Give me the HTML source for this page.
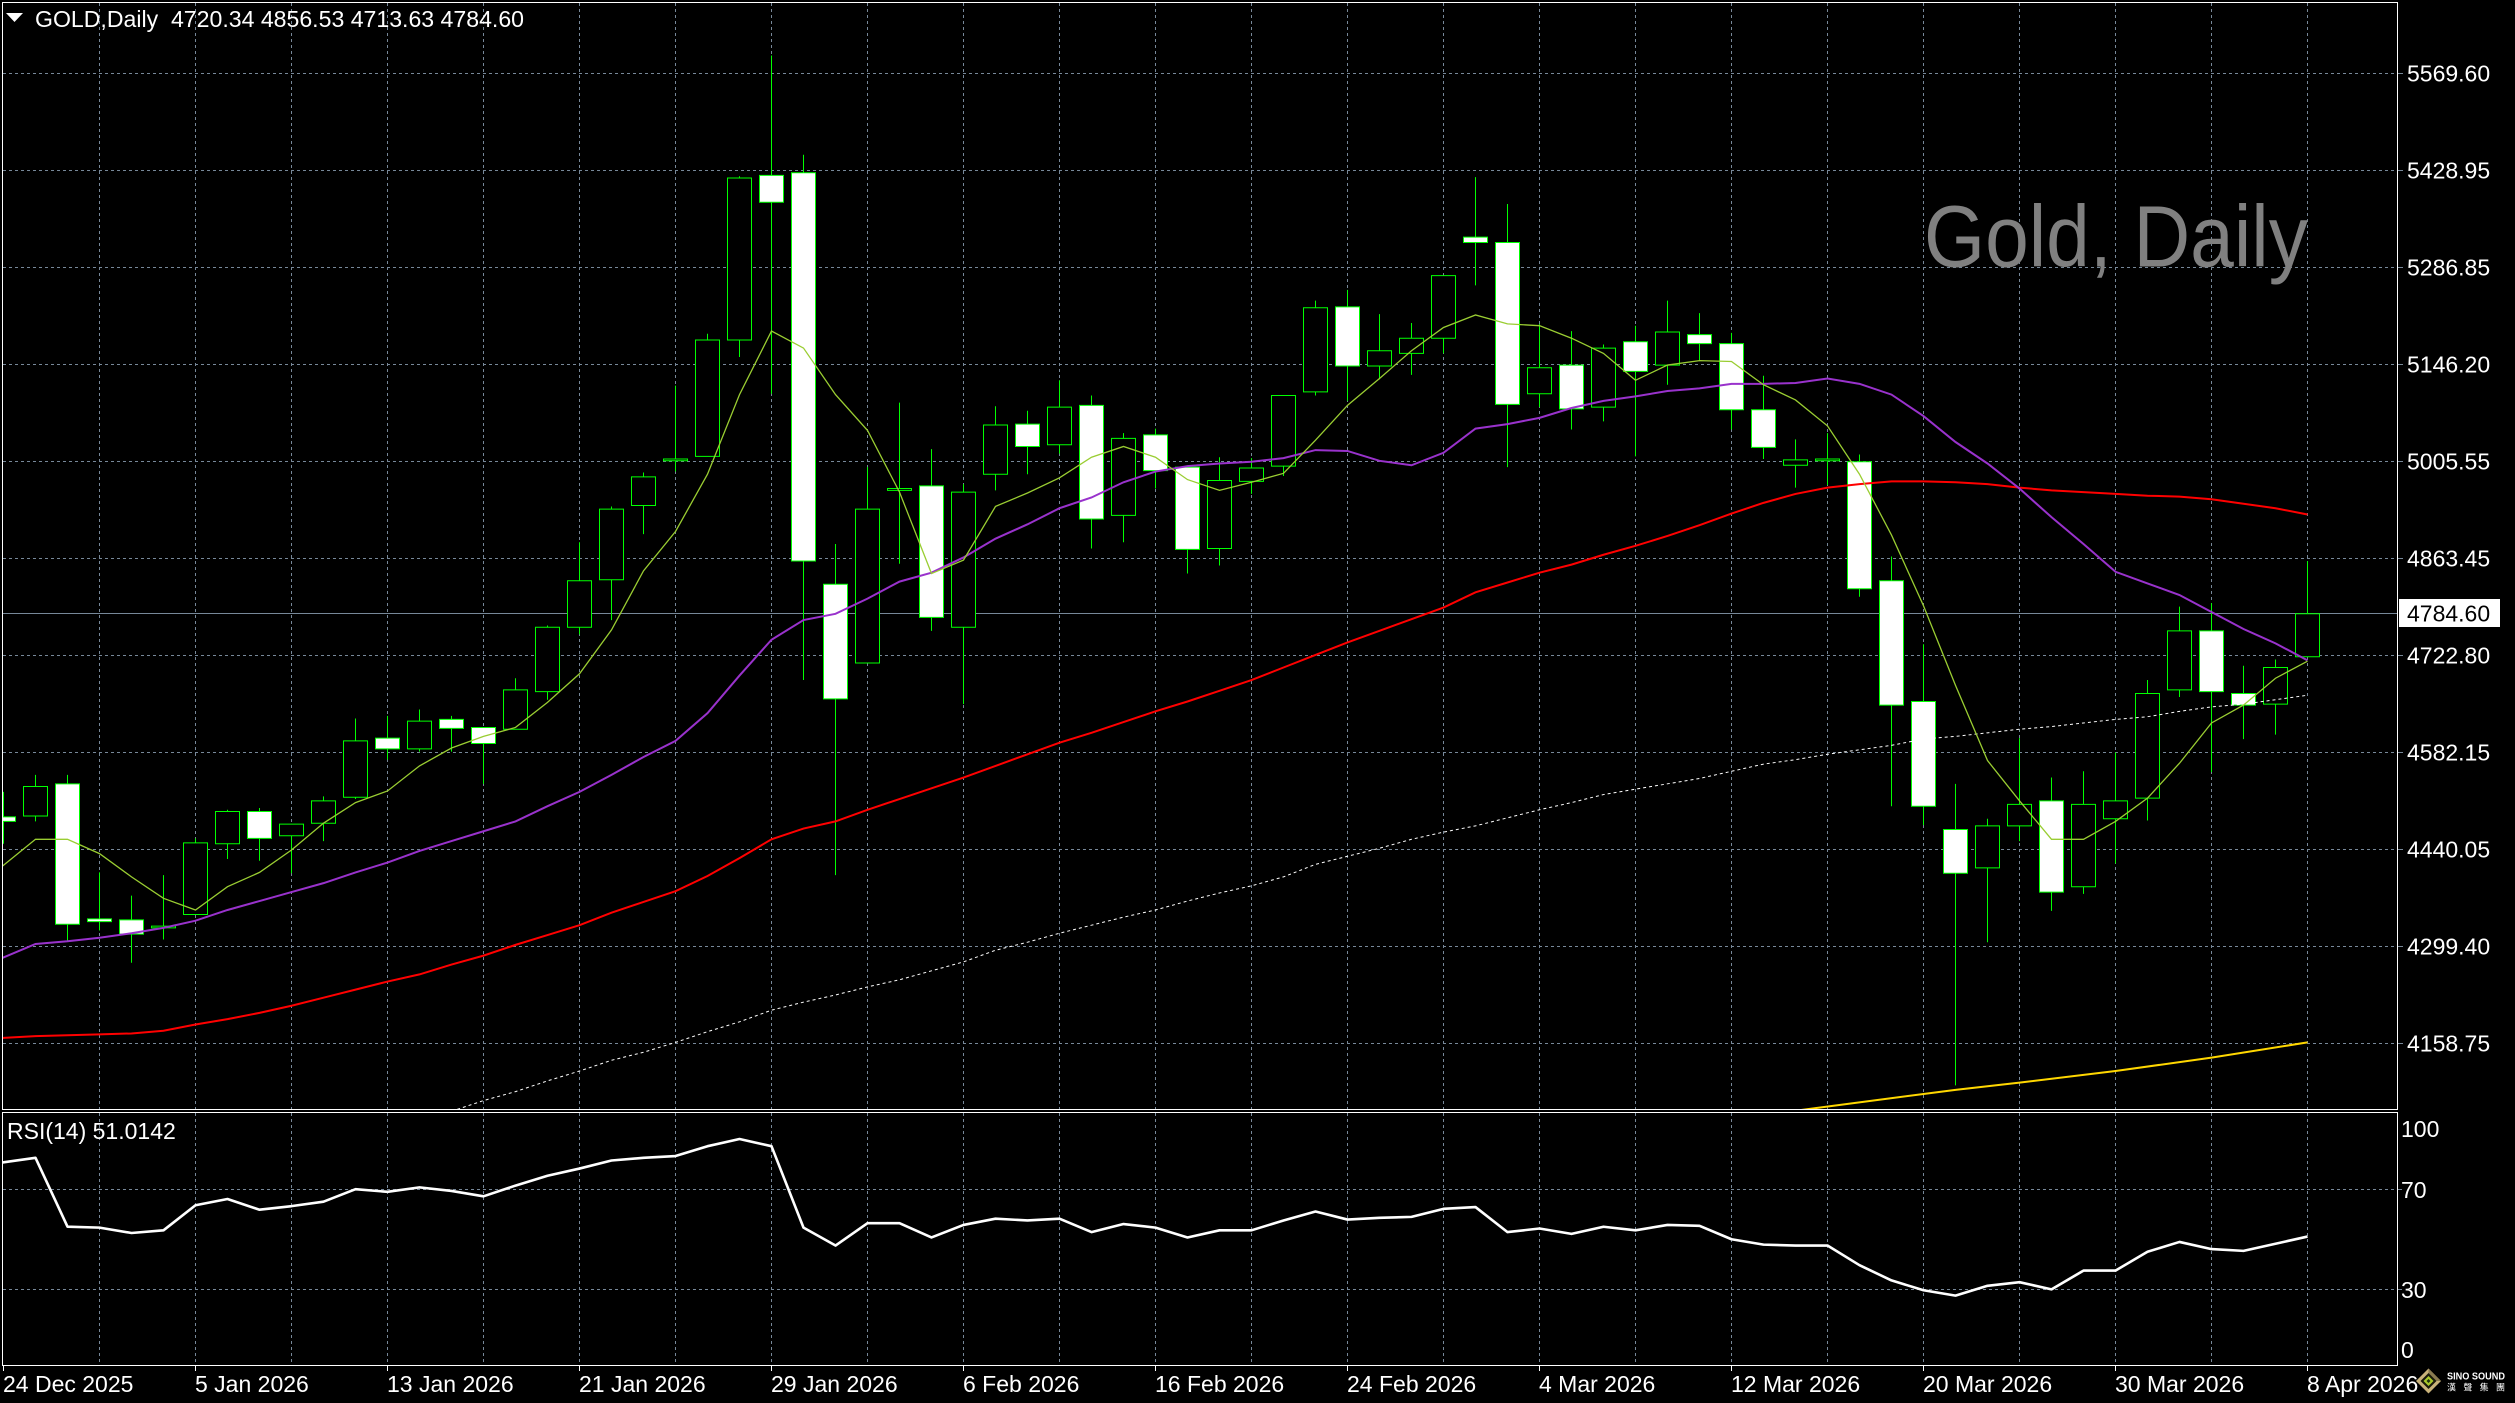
<!DOCTYPE html>
<html><head><meta charset="utf-8"><style>
html,body{margin:0;padding:0;background:#000;overflow:hidden;width:2515px;height:1403px}
svg{display:block}
text{font-family:"Liberation Sans",Arial,sans-serif}
.n{vector-effect:non-scaling-stroke}
</style></head><body>
<svg xmlns="http://www.w3.org/2000/svg" width="2515" height="1403" viewBox="0 0 2515 1403">
<rect width="2515" height="1403" fill="#000"/>
<defs>
<clipPath id="cm"><rect x="3" y="3" width="2394" height="1106"/></clipPath>
<clipPath id="cr"><rect x="3" y="1113" width="2394" height="252"/></clipPath>
</defs>
<!-- grid -->
<g stroke="#778899" stroke-width="1" stroke-dasharray="3 3" fill="none">
<path d="M3 73.5H2397M3 170.5H2397M3 267.5H2397M3 364.5H2397M3 461.5H2397M3 558.5H2397M3 655.5H2397M3 752.5H2397M3 849.5H2397M3 946.5H2397M3 1043.5H2397M3 1189.5H2397M3 1289.5H2397"/>
<path d="M99.5 3V1109M195.5 3V1109M291.5 3V1109M387.5 3V1109M483.5 3V1109M579.5 3V1109M675.5 3V1109M771.5 3V1109M867.5 3V1109M963.5 3V1109M1059.5 3V1109M1155.5 3V1109M1251.5 3V1109M1347.5 3V1109M1443.5 3V1109M1539.5 3V1109M1635.5 3V1109M1731.5 3V1109M1827.5 3V1109M1923.5 3V1109M2019.5 3V1109M2115.5 3V1109M2211.5 3V1109M2307.5 3V1109"/>
<path d="M99.5 1113V1365M195.5 1113V1365M291.5 1113V1365M387.5 1113V1365M483.5 1113V1365M579.5 1113V1365M675.5 1113V1365M771.5 1113V1365M867.5 1113V1365M963.5 1113V1365M1059.5 1113V1365M1155.5 1113V1365M1251.5 1113V1365M1347.5 1113V1365M1443.5 1113V1365M1539.5 1113V1365M1635.5 1113V1365M1731.5 1113V1365M1827.5 1113V1365M1923.5 1113V1365M2019.5 1113V1365M2115.5 1113V1365M2211.5 1113V1365M2307.5 1113V1365"/>
</g>
<!-- current price line -->
<line x1="3" y1="613.5" x2="2397" y2="613.5" stroke="#778899" stroke-width="1"/>
<!-- watermark -->
<text x="1924" y="266.5" font-size="87" fill="#808080" textLength="384" lengthAdjust="spacingAndGlyphs">Gold, Daily</text>

<g clip-path="url(#cm)">
<g transform="scale(1,0.89477)">
<g stroke="#00ff00" stroke-width="1" fill="none">
<path class="n" d="M3.5 885V943M35.5 866V918M67.5 866V1052M99.5 975V1040M131.5 1001V1076M163.5 978V1050M195.5 937V1022M227.5 905V960M259.5 903V962M291.5 921V976M323.5 890V940M355.5 803V893M387.5 800V849M419.5 793V840M451.5 800V840M483.5 813V876M515.5 758V815M547.5 699V782M579.5 606V709M611.5 566V693M643.5 528V597M675.5 431V527M707.5 373V510M739.5 197V399M771.5 62V440M803.5 173V760M835.5 608V978M867.5 522V741M899.5 450V630M931.5 502V705M963.5 541V787M995.5 454V548M1027.5 459V530M1059.5 425V507M1091.5 442V613M1123.5 484V606M1155.5 479V546M1187.5 522V641M1219.5 511V632M1251.5 512V552M1283.5 442V532M1315.5 336V442M1347.5 324V448M1379.5 351V424M1411.5 361V419M1443.5 308V395M1475.5 198V319M1507.5 228V522M1539.5 362V455M1571.5 370V480M1603.5 385V471M1635.5 364V510M1667.5 336V430M1699.5 350V403M1731.5 372V480M1763.5 420V513M1795.5 491V545M1827.5 484V542M1859.5 508V667M1891.5 622V901M1923.5 720V922M1955.5 876V1213M1987.5 915V1053M2019.5 825V940M2051.5 869V1018M2083.5 862V999M2115.5 841V965M2147.5 760V917M2179.5 678V779M2211.5 674V863M2243.5 744V826M2275.5 737V821M2307.5 627V734"/>
</g>
<g stroke="#00ff00" stroke-width="1">
<g fill="#fff">
<rect class="n" x="-8.5" y="913" width="24" height="5"/>
<rect class="n" x="55.5" y="876" width="24" height="157"/>
<rect class="n" x="87.5" y="1027" width="24" height="3"/>
<rect class="n" x="119.5" y="1028" width="24" height="16"/>
<rect class="n" x="247.5" y="907" width="24" height="30"/>
<rect class="n" x="375.5" y="825" width="24" height="12"/>
<rect class="n" x="439.5" y="804" width="24" height="10"/>
<rect class="n" x="471.5" y="813" width="24" height="18"/>
<rect class="n" x="759.5" y="196" width="24" height="30"/>
<rect class="n" x="791.5" y="193" width="24" height="434"/>
<rect class="n" x="823.5" y="653" width="24" height="128"/>
<rect class="n" x="919.5" y="543" width="24" height="147"/>
<rect class="n" x="1015.5" y="474" width="24" height="25"/>
<rect class="n" x="1079.5" y="453" width="24" height="127"/>
<rect class="n" x="1143.5" y="486" width="24" height="40"/>
<rect class="n" x="1175.5" y="522" width="24" height="92"/>
<rect class="n" x="1335.5" y="343" width="24" height="66"/>
<rect class="n" x="1463.5" y="265" width="24" height="6"/>
<rect class="n" x="1495.5" y="271" width="24" height="181"/>
<rect class="n" x="1559.5" y="408" width="24" height="49"/>
<rect class="n" x="1623.5" y="382" width="24" height="33"/>
<rect class="n" x="1687.5" y="374" width="24" height="10"/>
<rect class="n" x="1719.5" y="384" width="24" height="74"/>
<rect class="n" x="1751.5" y="458" width="24" height="42"/>
<rect class="n" x="1847.5" y="516" width="24" height="142"/>
<rect class="n" x="1879.5" y="649" width="24" height="139"/>
<rect class="n" x="1911.5" y="784" width="24" height="117"/>
<rect class="n" x="1943.5" y="927" width="24" height="49"/>
<rect class="n" x="2039.5" y="895" width="24" height="102"/>
<rect class="n" x="2199.5" y="705" width="24" height="68"/>
<rect class="n" x="2231.5" y="775" width="24" height="13"/>
</g>
<g fill="#000">
<rect class="n" x="23.5" y="879" width="24" height="33"/>
<rect class="n" x="151.5" y="1035" width="24" height="2"/>
<rect class="n" x="183.5" y="942" width="24" height="80"/>
<rect class="n" x="215.5" y="907" width="24" height="36"/>
<rect class="n" x="279.5" y="921" width="24" height="13"/>
<rect class="n" x="311.5" y="895" width="24" height="25"/>
<rect class="n" x="343.5" y="828" width="24" height="63"/>
<rect class="n" x="407.5" y="806" width="24" height="31"/>
<rect class="n" x="503.5" y="771" width="24" height="44"/>
<rect class="n" x="535.5" y="701" width="24" height="72"/>
<rect class="n" x="567.5" y="649" width="24" height="52"/>
<rect class="n" x="599.5" y="569" width="24" height="79"/>
<rect class="n" x="631.5" y="533" width="24" height="32"/>
<rect class="n" x="663.5" y="513" width="24" height="2"/>
<rect class="n" x="695.5" y="380" width="24" height="130"/>
<rect class="n" x="727.5" y="199" width="24" height="181"/>
<rect class="n" x="855.5" y="569" width="24" height="172"/>
<rect class="n" x="887.5" y="546" width="24" height="2"/>
<rect class="n" x="951.5" y="550" width="24" height="151"/>
<rect class="n" x="983.5" y="475" width="24" height="55"/>
<rect class="n" x="1047.5" y="455" width="24" height="42"/>
<rect class="n" x="1111.5" y="490" width="24" height="86"/>
<rect class="n" x="1207.5" y="537" width="24" height="76"/>
<rect class="n" x="1239.5" y="523" width="24" height="15"/>
<rect class="n" x="1271.5" y="442" width="24" height="79"/>
<rect class="n" x="1303.5" y="344" width="24" height="94"/>
<rect class="n" x="1367.5" y="392" width="24" height="17"/>
<rect class="n" x="1399.5" y="378" width="24" height="17"/>
<rect class="n" x="1431.5" y="308" width="24" height="70"/>
<rect class="n" x="1527.5" y="411" width="24" height="29"/>
<rect class="n" x="1591.5" y="389" width="24" height="66"/>
<rect class="n" x="1655.5" y="371" width="24" height="37"/>
<rect class="n" x="1783.5" y="514" width="24" height="6"/>
<rect class="n" x="1815.5" y="513" width="24" height="2"/>
<rect class="n" x="1975.5" y="923" width="24" height="47"/>
<rect class="n" x="2007.5" y="899" width="24" height="24"/>
<rect class="n" x="2071.5" y="899" width="24" height="92"/>
<rect class="n" x="2103.5" y="895" width="24" height="20"/>
<rect class="n" x="2135.5" y="775" width="24" height="117"/>
<rect class="n" x="2167.5" y="705" width="24" height="66"/>
<rect class="n" x="2263.5" y="746" width="24" height="41"/>
<rect class="n" x="2295.5" y="686" width="24" height="48"/>
</g>
</g>
<!-- moving averages -->
<polyline class="n" fill="none" stroke="#ffffff" stroke-width="1" stroke-dasharray="3 3" points="451.5,1242 483.5,1230 515.5,1220 547.5,1208 579.5,1197 611.5,1185 643.5,1176 675.5,1165 707.5,1153 739.5,1142 771.5,1129 803.5,1120 835.5,1112 867.5,1103 899.5,1095 931.5,1085 963.5,1075 995.5,1062 1027.5,1053 1059.5,1043 1091.5,1034 1123.5,1025 1155.5,1017 1187.5,1007 1219.5,998 1251.5,990 1283.5,980 1315.5,966 1347.5,957 1379.5,948 1411.5,938 1443.5,930 1475.5,923 1507.5,914 1539.5,905 1571.5,897 1603.5,888 1635.5,882 1667.5,876 1699.5,870 1731.5,862 1763.5,854 1795.5,849 1827.5,843 1859.5,838 1891.5,833 1923.5,826 1955.5,823 1987.5,819 2019.5,815 2051.5,812 2083.5,808 2115.5,804 2147.5,801 2179.5,795 2211.5,790 2243.5,787 2275.5,782 2307.5,777"/>
<polyline class="n" fill="none" stroke="#ffd700" stroke-width="2" points="1798,1241 1955.5,1218 2019.5,1210 2115.5,1197 2211.5,1182 2307.5,1165"/>
<polyline class="n" fill="none" stroke="#ff0000" stroke-width="2" points="-28.5,1162 3.5,1160 35.5,1158 67.5,1157 99.5,1156 131.5,1155 163.5,1152 195.5,1145 227.5,1139 259.5,1132 291.5,1124 323.5,1115 355.5,1106 387.5,1097 419.5,1089 451.5,1078 483.5,1068 515.5,1056 547.5,1045 579.5,1034 611.5,1020 643.5,1008 675.5,996 707.5,979 739.5,959 771.5,938 803.5,926 835.5,918 867.5,905 899.5,893 931.5,881 963.5,869 995.5,856 1027.5,843 1059.5,830 1091.5,819 1123.5,807 1155.5,795 1187.5,784 1219.5,772 1251.5,760 1283.5,746 1315.5,732 1347.5,718 1379.5,705 1411.5,692 1443.5,679 1475.5,662 1507.5,651 1539.5,640 1571.5,631 1603.5,620 1635.5,610 1667.5,599 1699.5,587 1731.5,574 1763.5,562 1795.5,552 1827.5,545 1859.5,541 1891.5,538 1923.5,538 1955.5,539 1987.5,541 2019.5,545 2051.5,548 2083.5,550 2115.5,552 2147.5,554 2179.5,555 2211.5,558 2243.5,563 2275.5,568 2307.5,575"/>
<polyline class="n" fill="none" stroke="#9932cc" stroke-width="2" points="-28.5,1085 3.5,1070 35.5,1055 67.5,1052 99.5,1048 131.5,1043 163.5,1037 195.5,1029 227.5,1017 259.5,1007 291.5,997 323.5,987 355.5,975 387.5,964 419.5,951 451.5,940 483.5,929 515.5,918 547.5,901 579.5,885 611.5,866 643.5,846 675.5,828 707.5,797 739.5,755 771.5,715 803.5,693 835.5,686 867.5,669 899.5,650 931.5,640 963.5,623 995.5,602 1027.5,586 1059.5,568 1091.5,556 1123.5,539 1155.5,527 1187.5,521 1219.5,518 1251.5,516 1283.5,512 1315.5,503 1347.5,504 1379.5,515 1411.5,520 1443.5,506 1475.5,479 1507.5,474 1539.5,467 1571.5,456 1603.5,448 1635.5,443 1667.5,437 1699.5,434 1731.5,429 1763.5,429 1795.5,428 1827.5,423 1859.5,429 1891.5,441 1923.5,465 1955.5,494 1987.5,518 2019.5,546 2051.5,578 2083.5,608 2115.5,639 2147.5,652 2179.5,665 2211.5,684 2243.5,703 2275.5,719 2307.5,738"/>
<polyline class="n" fill="none" stroke="#9acd32" stroke-width="1.3" points="-28.5,996 3.5,967 35.5,938 67.5,938 99.5,954 131.5,980 163.5,1004 195.5,1017 227.5,991 259.5,975 291.5,950 323.5,920 355.5,897 387.5,884 419.5,856 451.5,836 483.5,823 515.5,813 547.5,785 579.5,753 611.5,704 643.5,638 675.5,594 707.5,530 739.5,441 771.5,370 803.5,389 835.5,441 867.5,481 899.5,550 931.5,641 963.5,626 995.5,566 1027.5,551 1059.5,534 1091.5,511 1123.5,499 1155.5,511 1187.5,536 1219.5,548 1251.5,539 1283.5,529 1315.5,492 1347.5,453 1379.5,423 1411.5,392 1443.5,366 1475.5,352 1507.5,362 1539.5,364 1571.5,378 1603.5,395 1635.5,425 1667.5,408 1699.5,403 1731.5,404 1763.5,430 1795.5,447 1827.5,476 1859.5,530 1891.5,598 1923.5,677 1955.5,766 1987.5,850 2019.5,895 2051.5,938 2083.5,938 2115.5,918 2147.5,892 2179.5,853 2211.5,808 2243.5,788 2275.5,758 2307.5,739"/>
</g>
</g>

<!-- RSI -->
<g clip-path="url(#cr)">
<g transform="scale(1,0.89477)">
<polyline class="n" fill="none" stroke="#ffffff" stroke-width="2.6" stroke-linejoin="round" points="-28.5,1304 3.5,1299 35.5,1294 67.5,1371 99.5,1372 131.5,1378 163.5,1375 195.5,1347 227.5,1340 259.5,1352 291.5,1348 323.5,1343 355.5,1329 387.5,1332 419.5,1327 451.5,1331 483.5,1337 515.5,1325 547.5,1314 579.5,1306 611.5,1297 643.5,1294 675.5,1292 707.5,1281 739.5,1273 771.5,1281 803.5,1372 835.5,1392 867.5,1367 899.5,1367 931.5,1383 963.5,1369 995.5,1362 1027.5,1364 1059.5,1362 1091.5,1377 1123.5,1368 1155.5,1372 1187.5,1383 1219.5,1375 1251.5,1375 1283.5,1364 1315.5,1354 1347.5,1363 1379.5,1361 1411.5,1360 1443.5,1351 1475.5,1349 1507.5,1377 1539.5,1373 1571.5,1379 1603.5,1371 1635.5,1375 1667.5,1369 1699.5,1370 1731.5,1385 1763.5,1391 1795.5,1392 1827.5,1392 1859.5,1414 1891.5,1431 1923.5,1442 1955.5,1448 1987.5,1437 2019.5,1433 2051.5,1441 2083.5,1420 2115.5,1420 2147.5,1399 2179.5,1388 2211.5,1396 2243.5,1398 2275.5,1390 2307.5,1382"/>
</g>
</g>

<!-- borders -->
<g fill="none" stroke="#ffffff" stroke-width="1">
<rect x="2.5" y="2.5" width="2395" height="1107"/>
<rect x="2.5" y="1112.5" width="2395" height="253"/>
</g>
<!-- right ticks -->
<g stroke="#778899" stroke-width="1">
<path d="M2398 73.5H2403M2398 170.5H2403M2398 267.5H2403M2398 364.5H2403M2398 461.5H2403M2398 558.5H2403M2398 655.5H2403M2398 752.5H2403M2398 849.5H2403M2398 946.5H2403M2398 1043.5H2403M2398 1189.5H2402M2398 1289.5H2402"/>
</g>
<!-- date ticks -->
<g stroke="#ffffff" stroke-width="1">
<path d="M3.5 1366V1371M195.5 1366V1371M387.5 1366V1371M579.5 1366V1371M771.5 1366V1371M963.5 1366V1371M1155.5 1366V1371M1347.5 1366V1371M1539.5 1366V1371M1731.5 1366V1371M1923.5 1366V1371M2115.5 1366V1371M2307.5 1366V1371"/>
</g>

<!-- header -->
<polygon points="6,13 23,13 14.5,22" fill="#ffffff"/>
<text x="35" y="27" font-size="23" fill="#ffffff" xml:space="preserve" textLength="489" lengthAdjust="spacingAndGlyphs">GOLD,Daily  4720.34 4856.53 4713.63 4784.60</text>
<text x="7" y="1139" font-size="23" fill="#ffffff">RSI(14) 51.0142</text>

<!-- price labels -->
<g font-size="23" fill="#ffffff">
<text x="2407" y="81.5">5569.60</text>
<text x="2407" y="178.5">5428.95</text>
<text x="2407" y="275.5">5286.85</text>
<text x="2407" y="372.5">5146.20</text>
<text x="2407" y="469.5">5005.55</text>
<text x="2407" y="566.5">4863.45</text>
<text x="2407" y="663.5">4722.80</text>
<text x="2407" y="760.5">4582.15</text>
<text x="2407" y="857.5">4440.05</text>
<text x="2407" y="954.5">4299.40</text>
<text x="2407" y="1051.5">4158.75</text>
<text x="2401" y="1137">100</text>
<text x="2401" y="1198">70</text>
<text x="2401" y="1298">30</text>
<text x="2401" y="1358">0</text>
</g>
<rect x="2399" y="599" width="101" height="28" fill="#ffffff"/>
<text x="2407" y="621.5" font-size="23" fill="#000000">4784.60</text>

<!-- date labels -->
<g font-size="23" fill="#ffffff">
<text x="3" y="1392">24 Dec 2025</text>
<text x="195" y="1392">5 Jan 2026</text>
<text x="387" y="1392">13 Jan 2026</text>
<text x="579" y="1392">21 Jan 2026</text>
<text x="771" y="1392">29 Jan 2026</text>
<text x="963" y="1392">6 Feb 2026</text>
<text x="1155" y="1392">16 Feb 2026</text>
<text x="1347" y="1392">24 Feb 2026</text>
<text x="1539" y="1392">4 Mar 2026</text>
<text x="1731" y="1392">12 Mar 2026</text>
<text x="1923" y="1392">20 Mar 2026</text>
<text x="2115" y="1392">30 Mar 2026</text>
<text x="2307" y="1392">8 Apr 2026</text>
</g>

<!-- logo -->
<g transform="translate(2428.5,1381)">
<polygon points="0,-12.5 12.5,0 0,12.5 -12.5,0" fill="#c9b27a"/>
<polygon points="0,-12.5 12.5,0 0,0" fill="#8a7a50"/>
<polygon points="0,-8 8,0 0,8 -8,0" fill="#1a1a0a"/>
<polygon points="0,-5 5,0 0,5 -5,0" fill="#a8c82a"/>
<polygon points="0,-2 2,0 0,2 -2,0" fill="#203010"/>
</g>
<text x="2447" y="1379.5" font-size="10" font-weight="bold" fill="#ffffff" textLength="58" lengthAdjust="spacingAndGlyphs">SINO SOUND</text>
<text x="2447" y="1390.5" font-size="9" fill="#ffffff" textLength="58" style="font-family:'Liberation Sans','Noto Sans CJK TC',sans-serif">漢聲集團</text>
</svg>
</body></html>
